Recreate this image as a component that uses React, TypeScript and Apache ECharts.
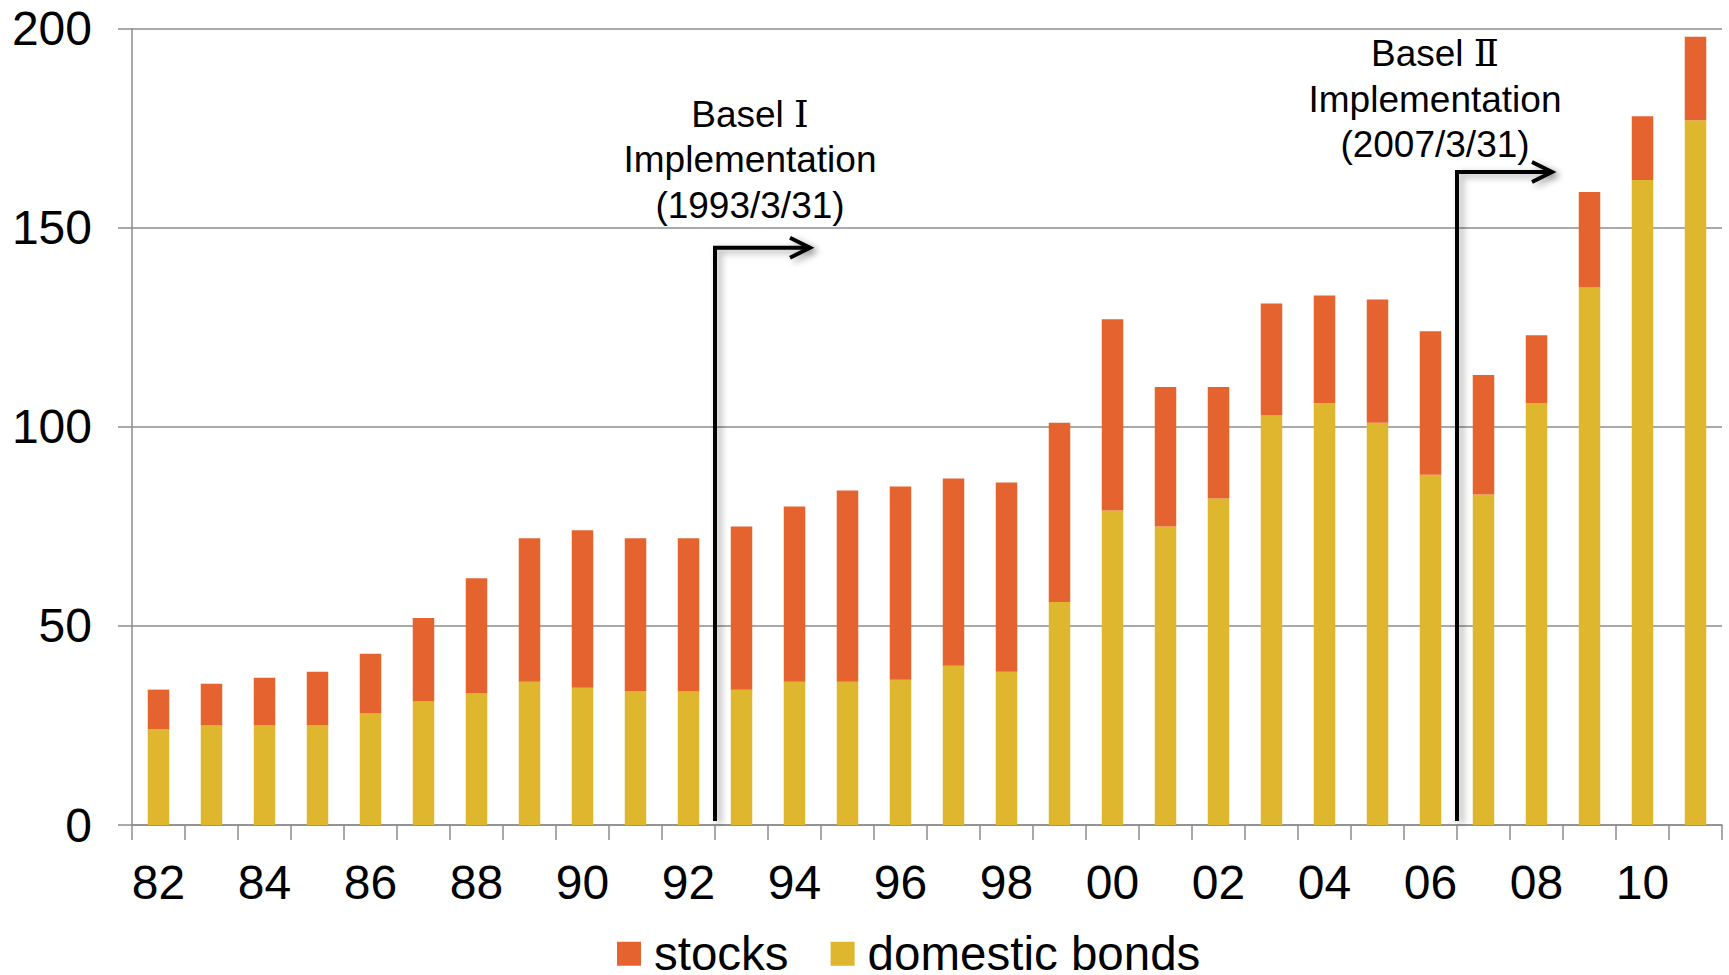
import React, { useEffect, useRef } from 'react';
import * as echarts from 'echarts';

// Fiscal years (two-digit labels), 1982 .. 2011
const years = [
  '82', '83', '84', '85', '86', '87', '88', '89', '90', '91',
  '92', '93', '94', '95', '96', '97', '98', '99', '00', '01',
  '02', '03', '04', '05', '06', '07', '08', '09', '10', '11',
];

// Holdings of domestic bonds (bottom of the stack)
const domesticBonds = [
  24, 25, 25, 25, 28, 31, 33, 36, 34.5, 33.5,
  33.5, 34, 36, 36, 36.5, 40, 38.5, 56, 79, 75,
  82, 103, 106, 101, 88, 83, 106, 135, 162, 177,
];

// Holdings of stocks (stacked on top of bonds)
const stocks = [
  10, 10.5, 12, 13.5, 15, 21, 29, 36, 39.5, 38.5,
  38.5, 41, 44, 48, 48.5, 47, 47.5, 45, 48, 35,
  28, 28, 27, 31, 36, 30, 17, 24, 16, 21,
];

const legendNames = ['stocks', 'domestic bonds'];

// Regulatory milestones: arrow rises at the boundary after `afterYear`
const baselEvents = [
  { title: 'Basel', numeral: 'Ⅰ', lines: ['Implementation', '(1993/3/31)'], afterYear: '92', arrowLevel: 145, textDx: 35, textDy: -88 },
  { title: 'Basel', numeral: 'Ⅱ', lines: ['Implementation', '(2007/3/31)'], afterYear: '06', arrowLevel: 164, textDx: -22, textDy: -73 },
];

const FONT = "'Liberation Sans', Arial, 'Noto Sans CJK JP', sans-serif";
const NUMERAL_FONT = "'DejaVu Serif', 'Liberation Serif', serif";
const GRID_GRAY = '#8c8c8c';
const STOCK_COLOR = '#E5632F';
const BOND_COLOR = '#DFB72F';

export default function App() {
  const ref = useRef<HTMLDivElement>(null);

  useEffect(() => {
    document.body.style.margin = '0';
    if (!ref.current) return;
    const chart = echarts.init(ref.current, null, { renderer: 'svg' });

    chart.setOption({
      animation: false,
      backgroundColor: '#ffffff',
      textStyle: { fontFamily: FONT },
      grid: { left: 132, right: 7, top: 28.7, bottom: 150, containLabel: false },
      legend: {
        data: legendNames,
        left: 617,
        top: 930,
        padding: 0,
        itemWidth: 24,
        itemHeight: 24,
        itemGap: 42,
        icon: 'rect',
        textStyle: { fontSize: 47.5, color: '#000', fontFamily: FONT, lineHeight: 47, padding: [0, 0, 0, 8] },
      },
      xAxis: {
        type: 'category',
        data: years,
        axisLine: { show: true, lineStyle: { color: GRID_GRAY, width: 1.5 } },
        axisTick: { show: true, interval: 0, length: 15, lineStyle: { color: GRID_GRAY, width: 1.5 } },
        axisLabel: { interval: 1, fontSize: 48, color: '#000', margin: 33, fontFamily: FONT },
      },
      yAxis: {
        type: 'value',
        min: 0,
        max: 200,
        interval: 50,
        axisLine: { show: true, lineStyle: { color: GRID_GRAY, width: 1.5 } },
        axisTick: { show: true, length: 14, lineStyle: { color: GRID_GRAY, width: 1.5 } },
        axisLabel: { fontSize: 48, color: '#000', margin: 40, fontFamily: FONT },
        splitLine: { show: true, lineStyle: { color: GRID_GRAY, width: 1.5 } },
      },
      series: [
        {
          name: 'domestic bonds',
          type: 'bar',
          stack: 'total',
          data: domesticBonds,
          barWidth: 21.5,
          itemStyle: { color: BOND_COLOR },
        },
        {
          name: 'stocks',
          type: 'bar',
          stack: 'total',
          data: stocks,
          barWidth: 21.5,
          itemStyle: { color: STOCK_COLOR },
        },
      ],
    });

    // Elbow arrows and captions anchored to the axes
    const xAt = (cat: string) => chart.convertToPixel({ xAxisIndex: 0 }, cat) as number;
    const yAt = (v: number) => chart.convertToPixel({ yAxisIndex: 0 }, v) as number;
    const band = xAt(years[1]) - xAt(years[0]);

    const arrowStyle = {
      stroke: '#000',
      lineWidth: 4,
      fill: null,
      shadowBlur: 7,
      shadowColor: 'rgba(0,0,0,0.35)',
      shadowOffsetX: 4,
      shadowOffsetY: 3,
    };

    const graphics: any[] = [];
    baselEvents.forEach((ev) => {
      const x = xAt(ev.afterYear) + band / 2;
      const yCorner = yAt(ev.arrowLevel);
      const yBottom = yAt(1);
      const tip = x + 95;
      graphics.push({
        type: 'polyline',
        z: 100,
        shape: { points: [[x, yBottom], [x, yCorner], [tip, yCorner]] },
        style: arrowStyle,
      });
      graphics.push({
        type: 'polyline',
        z: 100,
        shape: { points: [[tip - 20, yCorner - 10], [tip, yCorner], [tip - 20, yCorner + 10]] },
        style: arrowStyle,
      });
      graphics.push({
        type: 'text',
        z: 100,
        x: x + ev.textDx,
        y: yCorner + ev.textDy,
        style: {
          text: `{t|${ev.title} }{n|${ev.numeral}}\n` + ev.lines.join('\n'),
          fontSize: 37,
          fontFamily: FONT,
          fill: '#000',
          align: 'center',
          verticalAlign: 'middle',
          lineHeight: 45.5,
          rich: {
            t: { fontSize: 37, fontFamily: FONT, fill: '#000', lineHeight: 45.5 },
            n: { fontSize: 37, fontFamily: NUMERAL_FONT, fill: '#000', lineHeight: 45.5 },
          },
        },
      });
    });

    chart.setOption({ graphic: graphics });

    return () => {
      chart.dispose();
    };
  }, []);

  return <div ref={ref} style={{ width: 1729, height: 975 }} />;
}
